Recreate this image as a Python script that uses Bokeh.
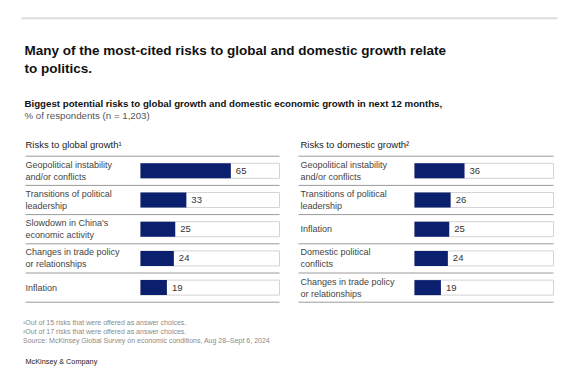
from bokeh.plotting import figure
from bokeh.models import Range1d, ColumnDataSource
from bokeh.core.properties import value
from bokeh.embed import file_html
from bokeh.resources import INLINE

# ---- data ----
global_labels = ["Geopolitical instability\nand/or conflicts", "Transitions of political\nleadership",
                 "Slowdown in China's\neconomic activity", "Changes in trade policy\nor relationships", "Inflation"]
global_values = [65, 33, 25, 24, 19]
domestic_labels = ["Geopolitical instability\nand/or conflicts", "Transitions of political\nleadership",
                   "Inflation", "Domestic political\nconflicts", "Changes in trade policy\nor relationships"]
domestic_values = [36, 26, 25, 24, 19]

title_lines = ["Many of the most-cited risks to global and domestic growth relate", "to politics."]
subtitle_1 = "Biggest potential risks to global growth and domestic economic growth in next 12 months,"
subtitle_2 = "% of respondents (n = 1,203)"
panel_titles = ["Risks to global growth\u00b9", "Risks to domestic growth\u00b2"]
footnotes = ["\u00b9Out of 15 risks that were offered as answer choices.",
             "\u00b2Out of 17 risks that were offered as answer choices.",
             " Source: McKinsey Global Survey on economic conditions, Aug 28\u2013Sept 6, 2024"]
brand = "McKinsey & Company"

W, H = 568, 382
FONT = "Liberation Sans"
NAVY = "#0b1f6f"

p = figure(width=W, height=H, output_backend="svg", toolbar_location=None,
           x_range=Range1d(0, W), y_range=Range1d(H, 0), min_border=0)
p.axis.visible = False
p.grid.visible = False
p.outline_line_color = None
p.background_fill_color = "white"
p.border_fill_color = "white"

# value scale: 100% = 139 px
PX = 1.39
def value_range(px0):
    return Range1d(-px0 / PX, (W - px0) / PX)
p.extra_x_ranges = {"gx": value_range(140), "dx": value_range(414)}
# row scale: 29.2 px per row, row 0 centre at y=170.3
RH = 29.2
Y0 = 170.3
p.extra_y_ranges = {"ry": Range1d((H - Y0) / RH, -Y0 / RH)}

# top rule
p.segment(x0=[21], y0=[17.7], x1=[557], y1=[17.7], line_color="#dddddd", line_width=2)

# title & subtitle
p.text(x=[24, 24], y=[50, 68], text=title_lines, text_font=value(FONT), text_font_size="13.5px",
       text_font_style="bold", text_color="#111111", text_baseline="middle")
p.text(x=[24], y=[103], text=[subtitle_1], text_font=value(FONT), text_font_size="9.7px",
       text_font_style="bold", text_color="#111111", text_baseline="middle")
p.text(x=[24], y=[115], text=[subtitle_2], text_font=value(FONT), text_font_size="9.7px",
       text_color="#555555", text_baseline="middle")

def panel(title, labels, vals, xname, lx0, lx1, tx):
    n = len(vals)
    idx = list(range(n))
    p.text(x=[tx], y=[144], text=[title], text_font=value(FONT), text_font_size="9.5px",
           text_color="#222222", text_baseline="middle")
    seps = [i - 0.5 for i in range(n + 1)]
    p.segment(x0=[lx0] * len(seps), x1=[lx1] * len(seps), y0=seps, y1=seps,
              y_range_name="ry", line_color="#9a9a9a", line_width=1)
    src = ColumnDataSource(dict(y=idx, v=vals, full=[100] * n, zero=[0] * n,
                                lab=[str(v) for v in vals]))
    p.hbar(y="y", left="zero", right="full", height=15 / RH, source=src,
           x_range_name=xname, y_range_name="ry", fill_color="white", line_color="#d4d4d4", line_width=1)
    p.hbar(y="y", left="zero", right="v", height=15 / RH, source=src,
           x_range_name=xname, y_range_name="ry", fill_color=NAVY, line_color=None)
    p.text(x="v", y="y", text="lab", source=src, x_range_name=xname, y_range_name="ry",
           x_offset=5, text_font=value(FONT), text_font_size="9.5px", text_color="#333333",
           text_baseline="middle")
    lsrc = ColumnDataSource(dict(x=[tx] * n, y=idx, t=labels))
    p.text(x="x", y="y", text="t", source=lsrc, y_range_name="ry", text_font=value(FONT),
           text_font_size="9px", text_color="#444444", text_baseline="middle",
           text_line_height=1.2)

panel(panel_titles[0], global_labels, global_values, "gx", 25, 279, 25)
panel(panel_titles[1], domestic_labels, domestic_values, "dx", 298, 553, 300)

# footnotes
p.text(x=[22.5] * 3, y=[322.3, 331, 339.5], text=footnotes, text_font=value(FONT),
       text_font_size="7px", text_color="#8a8a8a", text_baseline="middle")
p.text(x=[25], y=[361], text=[brand], text_font=value(FONT), text_font_size="7.3px",
       text_color="#222222", text_baseline="middle")

open("out.html", "w").write(file_html(p, INLINE))
